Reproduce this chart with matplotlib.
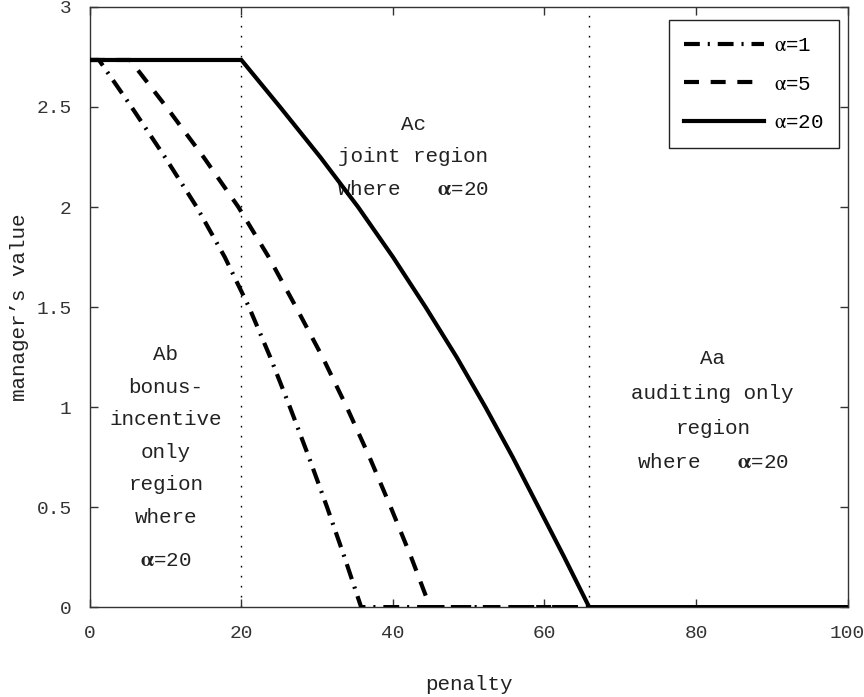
import numpy as np
import matplotlib
matplotlib.use("Agg")
import matplotlib.pyplot as plt

plt.rcParams['font.family'] = ['Liberation Mono', 'DejaVu Sans']
plt.rcParams['mathtext.fontset'] = 'stix'
plt.rcParams['font.size'] = 15

# manager's value against penalty, one curve per alpha
val_levels = [2.735, 2.735, 2.5, 2.25, 2.0, 1.75, 1.5, 1.25, 1.0, 0.75, 0.5, 0.25, 0.0, 0.0]

pen_a1 = [0, 1.2, 5.5, 9.9, 14.1, 17.8, 21.0, 23.8, 26.4, 28.9, 31.3, 33.6, 35.8, 100]
pen_a5 = [0, 5.3, 10.1, 15.0, 19.6, 23.6, 27.2, 30.7, 33.9, 36.9, 39.7, 42.4, 44.9, 100]
pen_a20 = [0, 20.0, 25.1, 30.4, 35.4, 40.0, 44.3, 48.4, 52.2, 55.8, 59.2, 62.6, 65.9, 100]

# region boundaries
bounds = [20, 65.9]

xticks = [0, 20, 40, 60, 80, 100]
yticks = [0, 0.5, 1, 1.5, 2, 2.5, 3]
ytick_labels = ['0', '0.5', '1', '1.5', '2', '2.5', '3']

fig = plt.figure(figsize=(8.64, 6.97), dpi=100)
ax = fig.add_axes([0.104, 0.129, 0.877, 0.861])

for b in bounds:
    ax.axvline(b, color='black', lw=1.0, linestyle=(0, (1.2, 6)), zorder=1)

l1, = ax.plot(pen_a1, val_levels, color='black', lw=3,
              label=r'$\mathrm{\alpha}$=1', zorder=3)
l1.set_dashes([3.8, 1.9, 0.5, 1.9])
l2, = ax.plot(pen_a5, val_levels, color='black', lw=3,
              label=r'$\mathrm{\alpha}$=5', zorder=3)
l2.set_dashes([3.6, 2.8])
ax.plot(pen_a20, val_levels, color='black', lw=3, solid_joinstyle='miter',
        label=r'$\mathrm{\alpha}$=20', zorder=4)

ax.set_xlim(0, 100)
ax.set_ylim(0, 3)
ax.set_xticks(xticks)
ax.set_yticks(yticks)
ax.set_yticklabels(ytick_labels)
ax.tick_params(direction='in', top=True, right=True, length=6, width=1,
               colors='#333333', labelsize=14)
ax.tick_params(axis='x', pad=13)
ax.tick_params(axis='y', pad=13)
for s in ax.spines.values():
    s.set_color('#333333')
    s.set_linewidth(1.0)

ax.set_xlabel('penalty', labelpad=24, color='#222222')
ax.set_ylabel("manager\u2019s value", labelpad=5.5, color='#222222')

alpha_txt = r'$\mathbf{\alpha}$=20'
ax.text(10.0, 1.31, 'Ab\nbonus-\nincentive\nonly\nregion\nwhere',
        ha='center', va='top', linespacing=1.9, color='#222222')
ax.text(10.0, 0.235, alpha_txt, ha='center', va='center', color='#222222')
ax.text(42.7, 2.46, 'Ac\njoint region\nwhere   ' + alpha_txt,
        ha='center', va='top', linespacing=1.9, color='#222222')
ax.text(82.2, 1.29, 'Aa\nauditing only\nregion\nwhere   ' + alpha_txt,
        ha='center', va='top', linespacing=2.05, color='#222222')

leg = ax.legend(loc='upper right', bbox_to_anchor=(0.989, 0.978),
                borderaxespad=0, handlelength=3.8, handletextpad=0.5,
                labelspacing=0.95, borderpad=0.75, fancybox=False,
                framealpha=1, edgecolor='#222222', fontsize=15)
leg.get_frame().set_linewidth(1.0)

fig.savefig('out.png', dpi=100)
